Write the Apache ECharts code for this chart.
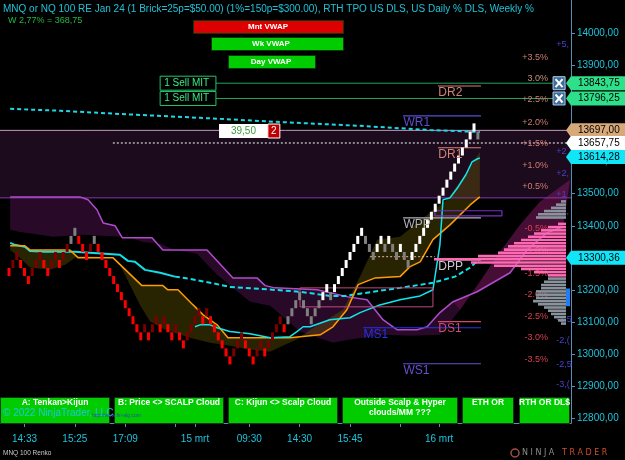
<!DOCTYPE html>
<html>
<head>
<meta charset="utf-8">
<script src="https://cdn.jsdelivr.net/npm/echarts@6/dist/echarts.min.js"></script>
<style>
  html, body { margin: 0; padding: 0; background: #000; }
  #chart { width: 625px; height: 460px; }
</style>
</head>
<body>
<div id="chart"></div>
<script>
// ---- data ----
const BRICK = 25;
// renko brick close prices, one per column
const brickClose = [
  13243.75, 13293.75, 13318.75, 13268.75, 13243.75, 13218.75, 13268.75, 13293.75, 13318.75, 13268.75,
  13243.75, 13293.75, 13318.75, 13268.75, 13318.75, 13343.75, 13368.75, 13393.75, 13343.75, 13318.75,
  13293.75, 13343.75, 13368.75, 13318.75, 13293.75, 13268.75, 13243.75, 13218.75, 13193.75, 13168.75,
  13143.75, 13118.75, 13093.75, 13068.75, 13043.75, 13093.75, 13043.75, 13093.75, 13118.75, 13068.75,
  13118.75, 13068.75, 13043.75, 13093.75, 13043.75, 13018.75, 13068.75, 13093.75, 13118.75, 13143.75,
  13093.75, 13143.75, 13093.75, 13068.75, 13043.75, 13018.75, 12993.75, 12968.75, 13018.75, 13043.75,
  13068.75, 13018.75, 12993.75, 12968.75, 13018.75, 13043.75, 12993.75, 13043.75, 13068.75, 13093.75,
  13118.75, 13068.75, 13118.75, 13143.75, 13168.75, 13193.75, 13143.75, 13118.75, 13093.75, 13143.75,
  13168.75, 13193.75, 13218.75, 13168.75, 13218.75, 13243.75, 13268.75, 13293.75, 13318.75, 13343.75,
  13368.75, 13393.75, 13343.75, 13318.75, 13293.75, 13343.75, 13368.75, 13318.75, 13368.75, 13318.75,
  13293.75, 13343.75, 13293.75, 13268.75, 13318.75, 13343.75, 13368.75, 13393.75, 13418.75, 13443.75,
  13468.75, 13493.75, 13518.75, 13543.75, 13568.75, 13593.75, 13618.75, 13643.75, 13668.75, 13693.75,
  13718.75, 13668.75
];
// D = down red, d = up dark red, g = up grey, h = down grey, W = up white
const brickKind =
  'DddDDDdddD' + 'DddDddggDD' + 'DdgDDDDDDD' + 'DDDDDdDddD' + 'dDDdDDdddd' +
  'DdDDDDDDdd' + 'dDDDddDddd' + 'dDgggghhhg' + 'gWWhWWWWWW' + 'WWhhhWWhWh' +
  'hWhhWWWWWW' + 'WWWWWWWWWW' + 'Wh';

// x axis (column index) labels
const timeIdx = [4, 17, 30, 48, 62, 75, 88, 111];
const timeLabels = ['14:33', '15:25', '17:09', '15 mrt', '09:30', '14:30', '15:45', '16 mrt'];
const timeTickIdx = [4, 17, 30, 43, 48, 62, 75, 88, 101, 111];
const priceTicks = [12800, 12900, 13000, 13100, 13200, 13300, 13400, 13500, 13600, 13700, 13800, 13900, 14000];

// monthly vwap (dashed cyan, top)
const mvwapX = [0.3, 13.2, 28.6, 49.3, 69.9, 90.6, 108.6, 121.5];
const mvwapP = [13764, 13758, 13748, 13736, 13723, 13711, 13698, 13692];
// weekly vwap: solid part then dashed part
const wvwapX = [0.3, 1.5, 4.1, 5.4, 9.3, 17.0, 24.8, 28.6, 30.7, 32.5, 35.1, 39.0, 42.8];
const wvwapP = [13347, 13341, 13335, 13322, 13319, 13319, 13313, 13310, 13291, 13288, 13263, 13254, 13242];
const wvwap2X = [42.8, 46.7, 51.9, 57.0, 64.8, 75.1, 82.8, 86.7, 90.6, 95.7, 100.9, 109.4, 115.1, 119.0, 121.5];
const wvwap2P = [13242, 13235, 13223, 13210, 13204, 13195, 13182, 13182, 13189, 13198, 13207, 13223, 13242, 13270, 13298];
// tenkan (solid cyan)
const tenkanX = [48.0, 49.3, 51.9, 53.7, 57.0, 62.2, 67.4, 72.5, 74.3, 75.9, 77.7, 82.8, 88.0, 90.6, 95.7,
  100.9, 106.1, 109.4, 111.2, 112.0, 113.8, 115.9, 117.9, 119.5, 120.8, 121.5];
const tenkanP = [13086, 13092, 13092, 13083, 13071, 13064, 13052, 13055, 13071, 13086, 13086, 13108, 13114, 13130, 13154,
  13170, 13182, 13201, 13341, 13481, 13487, 13521, 13559, 13599, 13608, 13611];
// kijun (orange)
const kijunX = [0.3, 4.1, 5.4, 15.7, 17.8, 26.8, 34.3, 39.7, 41.0, 43.6, 47.5, 50.1, 53.7, 56.5, 72.5, 75.1, 80.3,
  83.6, 87.2, 90.1, 94.5, 100.9, 103.5, 106.1, 109.4, 113.8, 119.0, 121.5];
const kijunP = [13338, 13338, 13325, 13325, 13301, 13301, 13214, 13214, 13201, 13201, 13154, 13123, 13092, 13052, 13052, 13055, 13061,
  13086, 13139, 13217, 13238, 13242, 13273, 13288, 13357, 13403, 13465, 13490];
// scalp cloud other edge
const scalpX = [0.3, 2.8, 5.4, 10.6, 14.5, 17.8, 23.5, 26.8, 28.6, 31.2, 33.8, 36.4, 40.3, 46.7, 51.9, 57.0, 62.2,
  67.4, 71.2, 74.3, 77.7, 86.2, 90.6, 95.0, 100.9, 108.6, 113.0, 117.7, 121.5];
const scalpP = [13325, 13301, 13270, 13263, 13279, 13307, 13304, 13301, 13279, 13217, 13154, 13102, 13077, 13052, 13036, 13027, 13015,
  13008, 13030, 13046, 13077, 13139, 13242, 13357, 13366, 13441, 13481, 13559, 13630];
// big cloud: visible purple edge and hidden edge
const spanAX = [0.3, 18.3, 20.4, 22.7, 24.3, 27.4, 29.2, 36.9, 39.7, 51.1, 57.8, 64.0, 66.1, 68.6, 79.5, 87.5, 92.4,
  96.5, 100.1, 105.3, 107.9, 111.2, 114.6, 120.8, 129.3, 133.7, 138.8, 143.0];
const spanAP = [13490, 13490, 13481, 13450, 13409, 13400, 13363, 13363, 13325, 13325, 13238, 13238, 13214, 13207, 13201, 13179, 13170,
  13108, 13077, 13077, 13086, 13130, 13164, 13195, 13254, 13325, 13378, 13397];
const spanBX = [0.3, 2.8, 6.2, 11.4, 19.1, 23.5, 30.5, 34.6, 39.0, 42.8, 48.5, 53.7, 57.8, 62.2, 67.4, 70.7, 75.1,
  83.6, 88.0, 96.5, 103.5, 111.2, 116.4, 121.5, 126.7, 131.9, 137.0, 142.2, 144.8];
const spanBP = [13388, 13381, 13375, 13366, 13372, 13369, 13366, 13350, 13344, 13325, 13313, 13248, 13207, 13164, 13151, 13117, 13071,
  13036, 13046, 13061, 13058, 13061, 13139, 13226, 13319, 13403, 13475, 13521, 13543];

// weekly range band
const rangeTop = 13697, rangeBottom = 13487;
// levels with flags on the price axis
const flagPrices = [13843.75, 13796.25, 13697.00, 13657.75, 13614.28, 13300.36];
const sellPrices = [13843.75, 13796.25];
const lastPrice = 13657.75;
const pnlPrice = 13695, pnlText = '39,50', pnlQty = '2';

// pivots
const pivotNames = ['DR2', 'WR1', 'DR1', 'WPP', 'DPP', 'MS1', 'DS1', 'WS1'];
const pivotPrices = [13835, 13742, 13643, 13425, 13294, 13083, 13102, 12971];
const pivotStart = [110.7, 101.7, 110.7, 101.7, 110.7, 91.4, 110.7, 101.7];
const pivotEnd = 121.8;

// daily % levels
const pctLabels = ['+3.5%', '3.0%', '+2.5%', '+2.0%', '+1.5%', '+1.0%', '+0.5%', '-0.5%', '-1.0%', '-1.5%', '-2.0%', '-2.5%', '-3.0%', '-3.5%'];
const pctPrices = [13925, 13857, 13792, 13720, 13655, 13587, 13521, 13391, 13322, 13251, 13186, 13117, 13052, 12983];
// weekly % labels (clipped by the axis)
const wkLabels = ['+5,', '+0', '+2', '+2,', '+1', '+1,', '-1,5', '-2,(', '-2,5', '-3,('];
const wkPrices = [13963, 13830, 13630, 13562, 13496, 13445, 13108, 13043, 12970, 12905];

// volume profile (price = bar bottom, 10 pt bars)
const profHighP = [13470, 13460, 13450, 13440, 13430, 13420];
const profHighV = [5, 10, 15, 22, 28, 30];
const profVaP = [13400, 13390, 13380, 13370, 13360, 13350, 13340, 13330, 13320, 13310, 13300, 13290, 13280, 13270, 13260, 13250, 13240];
const profVaV = [8, 18, 25, 32, 38, 45, 52, 58, 62, 68, 88, 132, 95, 72, 45, 32, 18];
const profLowP = [13230, 13220, 13210, 13200, 13190, 13180, 13170, 13160, 13150, 13140, 13130, 13120, 13110, 13100, 13090];
const profLowV = [18, 22, 25, 25, 30, 30, 30, 33, 28, 22, 18, 15, 12, 8, 5];
const pocLine = 13304;

// ---- chart ----
const X_MIN = -2.3226, X_MAX = 145.03, Y_MIN = 12786.6, Y_MAX = 14102.6;
const FONT = '"Liberation Sans", Arial, sans-serif';
const fmt = v => v.toFixed(2).replace('.', ',');

function line(xs, ys, color, width, type, z) {
  return {
    type: 'line', data: xs.map((x, i) => [x, ys[i]]), symbol: 'none', silent: true,
    z: z || 3, animation: false,
    lineStyle: { color: color, width: width, type: type || 'solid' }
  };
}

function band(xa, ya, xb, yb, fill, z) {
  return {
    type: 'custom', silent: true, clip: true, z: z || 1, animation: false,
    data: [[xa[0], ya[0]]],
    renderItem(params, api) {
      const pts = [];
      for (let i = 0; i < xa.length; i++) pts.push(api.coord([xa[i], ya[i]]));
      for (let i = xb.length - 1; i >= 0; i--) pts.push(api.coord([xb[i], yb[i]]));
      return { type: 'polygon', shape: { points: pts }, style: { fill: fill } };
    }
  };
}

function profile(prices, vols, color) {
  return {
    type: 'custom', silent: true, z: 6, xAxisIndex: 1, animation: false,
    data: prices.map((p, i) => [vols[i], p]),
    renderItem(params, api) {
      const a = api.coord([5, api.value(1) + 10]);
      const b = api.coord([5 + api.value(0), api.value(1)]);
      return {
        type: 'rect',
        shape: { x: b[0], y: a[1], width: a[0] - b[0], height: Math.max(1, b[1] - a[1] - 0.6) },
        style: { fill: color }
      };
    }
  };
}

function texts(xs, ps, labels, colorFn, align, font, z) {
  return {
    type: 'custom', silent: true, z: z || 8, animation: false,
    data: ps.map((p, i) => [xs[i], p, i]),
    renderItem(params, api) {
      const pt = api.coord([api.value(0), api.value(1)]);
      const i = api.value(2);
      return {
        type: 'text', x: pt[0], y: pt[1],
        style: { text: labels[i], fill: colorFn(i), font: font, align: align, verticalAlign: 'middle' }
      };
    }
  };
}

const brickColors = { D: '#ff0000', d: '#7d0000', g: '#808080', h: '#808080', W: '#ffffff' };
const brickData = brickClose.map((c, i) => {
  const k = brickKind[i];
  const up = 'dgW'.indexOf(k) >= 0;
  return [i, up ? c - BRICK : c + BRICK, c, 'DdghW'.indexOf(k)];
});

const flagColors = ['#2fe08a', '#2fe08a', '#d7a878', '#ffffff', '#10e6f8', '#10e6f8'];

const series = [];
// weekly range band
series.push(band([X_MIN, X_MAX], [rangeTop, rangeTop], [X_MIN, X_MAX], [rangeBottom, rangeBottom], '#1b0b1d', 0));
// big cloud
series.push(band(spanAX, spanAP, spanBX, spanBP, 'rgba(80,18,80,0.5)', 1));
series.push(band(spanAX.filter(x => x >= 114.6), spanAP.filter((p, i) => spanAX[i] >= 114.6),
  spanBX.filter(x => x >= 116.4), spanBP.filter((p, i) => spanBX[i] >= 116.4), 'rgba(150,30,90,0.28)', 1));
// scalp cloud
series.push(band(kijunX, kijunP, scalpX, scalpP, 'rgba(125,110,0,0.32)', 2));

// horizontal lines
series.push(line([X_MIN, X_MAX], [rangeTop, rangeTop], '#c49ac0', 1));
series.push(line([X_MIN, X_MAX], [rangeBottom, rangeBottom], '#8a35b4', 1));
sellPrices.forEach(p => series.push(line([53.4, 140.4], [p, p], '#1fa85a', 1)));
series.push(line([26.8, X_MAX], [lastPrice, lastPrice], '#ffffff', 1, [2, 2], 4));

// indicator lines
series.push(line(spanAX, spanAP, '#b04ccc', 1.5));
series.push(line(mvwapX, mvwapP, '#1fd8e6', 2, [4, 3]));
series.push(line(wvwapX, wvwapP, '#11e0ea', 2));
series.push(line(wvwap2X, wvwap2P, '#11e0ea', 2, [5, 3]));
series.push(line(kijunX, kijunP, '#ff9d00', 1.5));
series.push(line(tenkanX, tenkanP, '#11e6ee', 1.5));

// boxes
series.push(line([75.1, 109.4, 109.4, 75.1, 75.1], [13207, 13207, 13148, 13148, 13207], '#c04a7c', 1));
series.push(line([109.9, 127.2, 127.2, 109.9, 109.9], [13447, 13447, 13431, 13431, 13447], '#7a2fc8', 1.2));
series.push(line([93.2, 109.9], [pocLine, pocLine], '#e8b8a8', 1, [2, 2]));

// pivot lines
const pivotColors = ['#d48276', '#5a4fd0', '#d48276', '#b0b0b8', '#c8c8d0', '#2236e6', '#d04a6a', '#6a4fd0'];
pivotNames.forEach((n, i) => {
  series.push(line([pivotStart[i], pivotEnd], [pivotPrices[i], pivotPrices[i]], pivotColors[i], 1.2, 'solid', 4));
});
series.push(texts(pivotStart.map(x => x + 0.1), pivotPrices.map(p => p - 22), pivotNames,
  i => pivotColors[i], 'left', '12px ' + FONT, 9));

// renko bricks
series.push({
  type: 'custom', silent: true, clip: true, z: 5, animation: false,
  data: brickData,
  encode: { x: 0, y: [1, 2] },
  renderItem(params, api) {
    const j = api.value(0), o = api.value(1), c = api.value(2);
    const top = api.coord([j, Math.max(o, c)]);
    const bot = api.coord([j, Math.min(o, c)]);
    return {
      type: 'rect',
      shape: { x: top[0] - 1.5, y: top[1], width: 3, height: bot[1] - top[1] },
      style: { fill: brickColors['DdghW'[api.value(3)]] }
    };
  }
});

// % labels (under the profile)
series.push(texts(pctPrices.map(() => 139.1), pctPrices, pctLabels,
  i => (i === 1 ? '#c8907c' : (i < 7 ? '#d27a72' : '#d8404e')), 'right', '9px ' + FONT, 5));
series.push(texts(wkPrices.map(() => 141.2), wkPrices, wkLabels, () => '#4a42c8', 'left', '9px ' + FONT, 5));

// volume profile
series.push(profile(profHighP, profHighV, '#8a939c'));
series.push(profile(profVaP, profVaV, '#ff69b4'));
series.push(profile(profLowP, profLowV, '#8a939c'));
series.push({
  type: 'custom', silent: true, z: 6, xAxisIndex: 1, animation: false,
  data: [[1, 13150, 13205]],
  renderItem(params, api) {
    const a = api.coord([api.value(0) + 4, api.value(2)]);
    const b = api.coord([api.value(0), api.value(1)]);
    return { type: 'rect', shape: { x: a[0], y: a[1], width: b[0] - a[0], height: b[1] - a[1] }, style: { fill: '#1f7ef0' } };
  }
});

// order lines: "1 Sell MIT" + close boxes
series.push({
  type: 'custom', silent: true, z: 9, animation: false,
  data: sellPrices.map((p, i) => [39.0, p, i]),
  renderItem(params, api) {
    const a = api.coord([39.0, api.value(1)]);
    const b = api.coord([53.4, api.value(1)]);
    const c = api.coord([140.4, api.value(1)]);
    const y = a[1];
    return {
      type: 'group', children: [
        { type: 'rect', shape: { x: a[0], y: y - 7, width: b[0] - a[0], height: 14 }, style: { fill: '#000', stroke: '#23c46a', lineWidth: 1 } },
        { type: 'text', x: a[0] + 4, y: y, style: { text: '1 Sell MIT', fill: '#3be884', font: '10px ' + FONT, verticalAlign: 'middle' } },
        { type: 'rect', shape: { x: c[0], y: y - 6.5, width: 12, height: 13 }, style: { fill: '#3f6d98', stroke: '#a8cdf0', lineWidth: 1 } },
        { type: 'line', shape: { x1: c[0] + 2.5, y1: y - 4, x2: c[0] + 9.5, y2: y + 4 }, style: { stroke: '#ffffff', lineWidth: 2 } },
        { type: 'line', shape: { x1: c[0] + 9.5, y1: y - 4, x2: c[0] + 2.5, y2: y + 4 }, style: { stroke: '#ffffff', lineWidth: 2 } }
      ]
    };
  }
});
// position P&L box
series.push({
  type: 'custom', silent: true, z: 9, animation: false,
  data: [[54.2, pnlPrice]],
  renderItem(params, api) {
    const a = api.coord([54.2, api.value(1)]);
    const b = api.coord([66.8, api.value(1)]);
    const y = a[1];
    return {
      type: 'group', children: [
        { type: 'rect', shape: { x: a[0], y: y - 7, width: b[0] - a[0], height: 14 }, style: { fill: '#ffffff' } },
        { type: 'text', x: (a[0] + b[0]) / 2, y: y, style: { text: pnlText, fill: '#3c9a3c', font: '10px ' + FONT, align: 'center', verticalAlign: 'middle' } },
        { type: 'rect', shape: { x: b[0], y: y - 7, width: 12, height: 14 }, style: { fill: '#c00000', stroke: '#ffffff', lineWidth: 1 } },
        { type: 'text', x: b[0] + 6, y: y, style: { text: pnlQty, fill: '#ffffff', font: '10px ' + FONT, align: 'center', verticalAlign: 'middle' } }
      ]
    };
  }
});

// price flags on the axis
series.push({
  type: 'custom', silent: true, clip: false, z: 20, animation: false,
  data: flagPrices.map((p, i) => [i, p]),
  renderItem(params, api) {
    const i = api.value(0);
    const y = api.coord([0, api.value(1)])[1];
    const x0 = params.coordSys.x + params.coordSys.width;
    return {
      type: 'group', children: [
        { type: 'polygon', shape: { points: [[x0 - 5, y], [x0, y - 7], [625, y - 7], [625, y + 7], [x0, y + 7]] }, style: { fill: flagColors[i] } },
        { type: 'text', x: x0 + 7, y: y, style: { text: fmt(api.value(1)), fill: '#000', font: '10px ' + FONT, verticalAlign: 'middle' } }
      ]
    };
  }
});

// ---- overlay widgets ----
const graphic = [];
function gText(x, y, text, fill, font, align) {
  graphic.push({ type: 'text', x: x, y: y, z: 100, silent: true,
    style: { text: text, fill: fill, font: font, align: align || 'left', verticalAlign: 'middle' } });
}
function gButton(x, y, w, h, fill) {
  graphic.push({ type: 'rect', z: 99, silent: true, shape: { x: x, y: y, width: w, height: h },
    style: { fill: fill, stroke: '#0a3a0a', lineWidth: 1 } });
}
gText(3, 9, 'MNQ or NQ 100 RE Jan 24 (1 Brick=25p=$50.00) (1%=150p=$300.00), RTH TPO US DLS, US Daily % DLS, Weekly %', '#1fc2d8', '10px ' + FONT);
gText(8, 21, 'W 2,77% = 368,75', '#22b844', '9px ' + FONT);
gButton(193.5, 20.5, 150, 13, '#dd0000');
gButton(211.5, 37.5, 132, 13, '#00cc00');
gButton(228.5, 55.5, 87, 13, '#00cc00');
gText(268, 27, 'Mnt VWAP', '#ffffff', 'bold 8px ' + FONT, 'center');
gText(271, 44, 'Wk VWAP', '#ffffff', 'bold 8px ' + FONT, 'center');
gText(271, 62, 'Day VWAP', '#ffffff', 'bold 8px ' + FONT, 'center');

const btn = [[0.5, 109], [114.5, 109], [228.5, 109], [342.5, 115], [462.5, 51], [519.5, 50]];
const btnText = ['A: Tenkan>Kijun', 'B: Price <> SCALP Cloud', 'C: Kijun <> Scalp Cloud', 'Outside Scalp & Hyper', 'ETH OR', 'RTH OR DL$'];
btn.forEach((b, i) => {
  gButton(b[0], 397.5, b[1], 26, '#00cc00');
  gText(b[0] + b[1] / 2, 403, btnText[i], '#ffffff', 'bold 8.5px ' + FONT, 'center');
});
gText(400, 413, 'clouds/MM ???', '#ffffff', 'bold 8.5px ' + FONT, 'center');
gText(3, 413, '\u00a9 2022 NinjaTrader, LLC', '#1ec8d8', '10px ' + FONT);
gText(92, 416, 'http://www.fin-alg.com', '#2a4aa8', '5px ' + FONT);
gText(3, 453, 'MNQ 100 Renko', '#c8c8c8', '6.5px ' + FONT);
graphic.push({ type: 'circle', z: 100, silent: true, shape: { cx: 515, cy: 453, r: 4 }, style: { fill: 'none', stroke: '#a05040', lineWidth: 1.5 } });
gText(522, 453, 'N I N J A', '#8c8c8c', '8px "DejaVu Sans", sans-serif');
gText(562, 453, 'T R A D E R', '#d04a30', '8px "DejaVu Sans", sans-serif');

const chart = echarts.init(document.getElementById('chart'), null, { renderer: 'canvas' });
chart.setOption({
  backgroundColor: '#000000',
  animation: false,
  grid: { left: 0, right: 54, top: 0, bottom: 37 },
  xAxis: [{
    type: 'value', min: X_MIN, max: X_MAX, position: 'bottom',
    axisLine: { onZero: false, lineStyle: { color: '#5a8db8', width: 1 } },
    axisTick: { show: true, length: 4, customValues: timeTickIdx, lineStyle: { color: '#5a8db8' } },
    axisLabel: {
      customValues: timeIdx, color: '#1cc4dc', fontSize: 10, fontFamily: FONT, margin: 11,
      formatter: v => timeLabels[timeIdx.indexOf(Math.round(v))] || ''
    },
    splitLine: { show: false }
  }, {
    type: 'value', min: 0, max: 571, inverse: true, show: false,
    axisLine: { onZero: false }
  }],
  yAxis: {
    type: 'value', position: 'right', min: Y_MIN, max: Y_MAX,
    axisLine: { show: true, onZero: false, lineStyle: { color: '#5a8db8', width: 1 } },
    axisTick: { show: true, length: 4, customValues: priceTicks, lineStyle: { color: '#5a8db8' } },
    axisLabel: { customValues: priceTicks, color: '#1cc4dc', fontSize: 10, fontFamily: FONT, margin: 6, formatter: v => fmt(v) },
    splitLine: { show: false }
  },
  graphic: graphic,
  series: series
});
</script>
</body>
</html>
